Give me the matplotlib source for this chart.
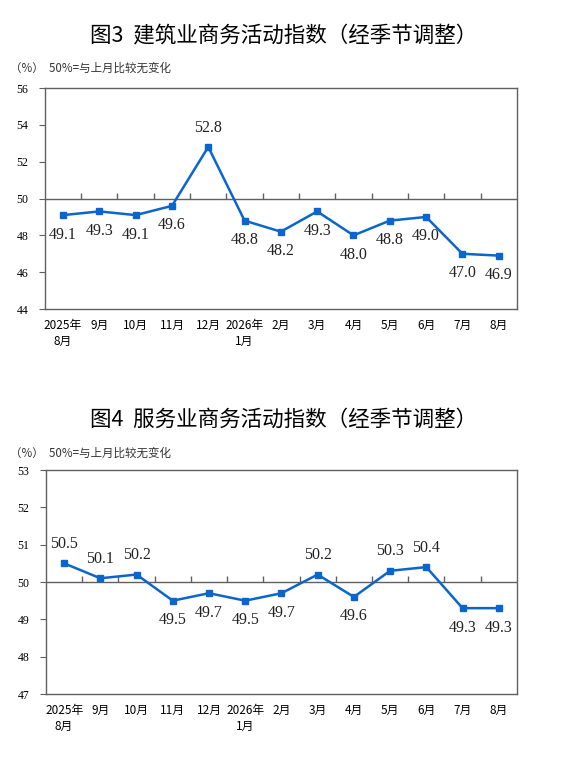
import matplotlib
matplotlib.use('Agg')
import matplotlib.pyplot as plt

plt.rcParams['font.family'] = ['Noto Sans CJK SC', 'DejaVu Sans']

# 月份标签
months = ['2025年\n8月', '9月', '10月', '11月', '12月', '2026年\n1月',
          '2月', '3月', '4月', '5月', '6月', '7月', '8月']

# 建筑业商务活动指数
construction = [49.1, 49.3, 49.1, 49.6, 52.8, 48.8, 48.2, 49.3, 48.0, 48.8, 49.0, 47.0, 46.9]
# 服务业商务活动指数
services = [50.5, 50.1, 50.2, 49.5, 49.7, 49.5, 49.7, 50.2, 49.6, 50.3, 50.4, 49.3, 49.3]

titles = ['图3  建筑业商务活动指数（经季节调整）', '图4  服务业商务活动指数（经季节调整）']
note = '（%）  50%=与上月比较无变化'

line_color = '#0A66CC'
frame_color = '#606060'
serif = ['Liberation Serif', 'DejaVu Serif']

fig = plt.figure(figsize=(5.68, 7.64), dpi=100)


def draw(rect, values, ylim, yticks, title, title_y, note_y):
    ax = fig.add_axes(rect)
    x = list(range(len(values)))
    ax.plot(x, values, color=line_color, lw=1.8, marker='s', ms=4.5, zorder=3)
    ax.axhline(50, color=frame_color, lw=1.0, zorder=2)
    # 50线上的分隔刻度
    ax.plot([i + 0.5 for i in range(len(values) - 1)], [50] * (len(values) - 1),
            ls='none', marker=2, ms=4, mew=1.0, color=frame_color, zorder=2)
    for xi, v in zip(x, values):
        off = 14 if v > 50 else -14
        ax.annotate(f'{v:.1f}', (xi, v), xytext=(0, off), textcoords='offset points',
                    ha='center', va='center', fontsize=11.5, family=serif,
                    color='#222222')
    ax.set_xlim(-0.5, len(values) - 0.5)
    ax.set_ylim(*ylim)
    ax.set_yticks(yticks)
    ax.set_yticklabels([str(t) for t in yticks], family=serif, fontsize=8.5)
    ax.set_xticks(x)
    ax.set_xticklabels(months, fontsize=8.5, linespacing=1.3, va='top')
    ax.tick_params(axis='x', length=0, pad=7)
    ax.tick_params(axis='y', direction='out', length=4, width=0.8, color=frame_color, pad=8)
    for s in ax.spines.values():
        s.set_color(frame_color)
        s.set_linewidth(1.0)
    fig.text(0.5, title_y, title, ha='center', va='center', fontsize=15.5, weight='medium')
    fig.text(0.018, note_y, note, ha='left', va='center', fontsize=8.3, color='#333333')
    return ax


draw([0.079, 0.5955, 0.831, 0.2893], construction, (44, 56), list(range(44, 57, 2)),
     titles[0], 1 - 35 / 764, 1 - 68 / 764)
draw([0.081, 0.0916, 0.829, 0.2932], services, (47, 53), list(range(47, 54)),
     titles[1], 1 - 420 / 764, 1 - 453 / 764)

fig.savefig('out.png', dpi=100)
